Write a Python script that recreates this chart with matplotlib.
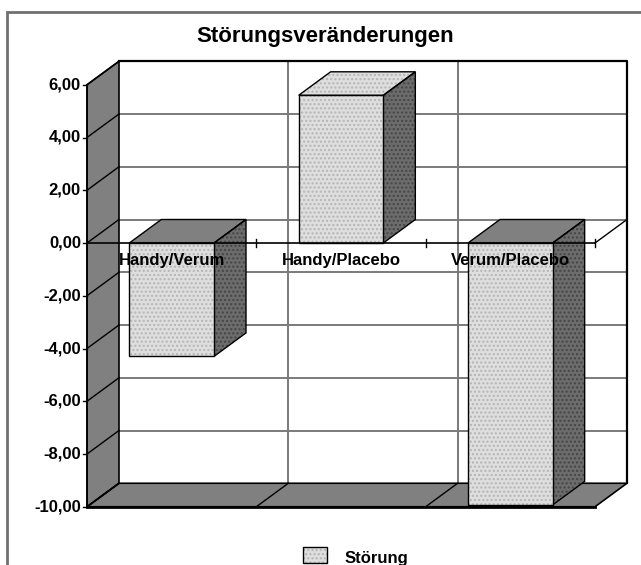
import matplotlib
matplotlib.use("Agg")
import matplotlib.pyplot as plt
import matplotlib.transforms as mtransforms
from matplotlib.patches import Polygon, Rectangle

plt.rcParams['font.family'] = ['Liberation Sans', 'DejaVu Sans']
plt.rcParams['hatch.linewidth'] = 1.0

# ---- data ----
title = "Störungsveränderungen"
categories = ["Handy/Verum", "Handy/Placebo", "Verum/Placebo"]
values = [-4.30, 5.60, -9.93]
series_name = "Störung"
y_ticks = [6, 4, 2, 0, -2, -4, -6, -8, -10]

# ---- figure / projection setup ----
W, H = 641, 565
fig = plt.figure(figsize=(W / 100, H / 100), dpi=100)
ax = fig.add_axes([0, 0, 1, 1])
ax.set_axis_off()

PX_CAT = 169.33      # pixels per category slot
PX_UNIT = 26.375     # pixels per value unit
ORIG_X, ORIG_Y = 87, 243   # front-plane origin (category 0, value 0)
ax.set_xlim(-ORIG_X / PX_CAT, (W - ORIG_X) / PX_CAT)
ax.set_ylim(-(H - ORIG_Y) / PX_UNIT, ORIG_Y / PX_UNIT)

# oblique depth offset (front plane -> back wall)
DX = 32 / PX_CAT
DY = 23.5 / PX_UNIT

n = len(categories)
vmin, vmax = min(y_ticks), max(y_ticks)

WALL = "#808080"
LIGHT = "#dedede"
LIGHT_DOT = "#b4b4b4"
DARK = "#6c6c6c"
DARK_DOT = "#454545"


def poly(pts, fc, ec="black", lw=1.0, z=1, hatch=None, hatch_col=None):
    ax.add_patch(Polygon(pts, closed=True, facecolor=fc, edgecolor="none",
                         lw=0, zorder=z))
    if hatch:
        ax.add_patch(Polygon(pts, closed=True, facecolor="none",
                             edgecolor=hatch_col, lw=0, hatch=hatch,
                             zorder=z + 0.01))
    if ec is not None:
        ax.add_patch(Polygon(pts, closed=True, facecolor="none",
                             edgecolor=ec, lw=lw, zorder=z + 0.02,
                             joinstyle="miter"))


# back wall
poly([(DX, vmin + DY), (n + DX, vmin + DY), (n + DX, vmax + DY), (DX, vmax + DY)],
     "white", ec=None, z=1)
for v in y_ticks:
    if vmin < v < vmax:
        ax.plot([DX, n + DX], [v + DY, v + DY], color="#7a7a7a", lw=1.4, zorder=1.5)
for i in range(1, n):
    ax.plot([i + DX, i + DX], [vmin + DY, vmax + DY], color="#7a7a7a", lw=1.4,
            zorder=1.5)
ax.plot([DX, n + DX, n + DX], [vmax + DY, vmax + DY, vmin + DY],
        color="black", lw=1.6, zorder=1.6)

# side wall
poly([(0, vmin), (DX, vmin + DY), (DX, vmax + DY), (0, vmax)], WALL, z=2, lw=1.2)
for v in y_ticks:
    ax.plot([0, DX], [v, v + DY], color="black", lw=1.0, zorder=2.1)

# floor
poly([(0, vmin), (n, vmin), (n + DX, vmin + DY), (DX, vmin + DY)], WALL, z=2,
     lw=1.2)
for i in range(1, n):
    ax.plot([i, i + DX], [vmin, vmin + DY], color="black", lw=1.0, zorder=2.1)
ax.plot([0, n], [vmin, vmin], color="black", lw=2.0, zorder=2.2)

# bars (full depth, half slot wide)
for i, v in enumerate(values):
    x0, x1 = i + 0.25, i + 0.75
    lo, hi = min(0, v), max(0, v)
    # right side face
    poly([(x1, lo), (x1 + DX, lo + DY), (x1 + DX, hi + DY), (x1, hi)],
         DARK, z=3, hatch="....", hatch_col=DARK_DOT)
    # top face
    if v >= 0:
        poly([(x0, hi), (x1, hi), (x1 + DX, hi + DY), (x0 + DX, hi + DY)],
             LIGHT, z=3, hatch="....", hatch_col=LIGHT_DOT)
    else:
        poly([(x0, hi), (x1, hi), (x1 + DX, hi + DY), (x0 + DX, hi + DY)],
             WALL, z=3)
    # front face
    poly([(x0, lo), (x1, lo), (x1, hi), (x0, hi)],
         LIGHT, z=3.1, hatch="....", hatch_col=LIGHT_DOT)

# value axis
ax.plot([0, 0], [vmin, vmax], color="black", lw=1.2, zorder=4)
tick_len = 4 / PX_CAT
lab_tr = mtransforms.offset_copy(ax.transData, fig=fig, x=-6, y=0, units="dots")
for v in y_ticks:
    ax.plot([-tick_len, 0], [v, v], color="black", lw=1.0, zorder=4)
    ax.text(0, v, f"{v:.2f}".replace(".", ","), transform=lab_tr,
            ha="right", va="center", fontsize=12, fontweight="bold", zorder=5)

# category axis at zero
ax.plot([0, n], [0, 0], color="black", lw=1.2, zorder=4)
ax.plot([n, n + DX], [0, DY], color="black", lw=1.0, zorder=4)
tk = 4 / PX_UNIT
for i in range(1, n + 1):
    ax.plot([i, i], [-tk, tk], color="black", lw=1.0, zorder=4)

cat_tr = mtransforms.offset_copy(ax.transData, fig=fig, x=0, y=-22, units="dots")
for i, c in enumerate(categories):
    ax.text(i + 0.5, 0, c, transform=cat_tr, ha="center", va="baseline",
            fontsize=12, fontweight="bold", zorder=6)

# title
fig.text(325 / W, 1 - 42 / H, title, ha="center", va="baseline",
         fontsize=16, fontweight="bold")

# legend key
key = (303 / W, 1 - 563 / H)
kw, kh = 24 / W, 16 / H
fig.patches.append(Rectangle(key, kw, kh, transform=fig.transFigure,
                             facecolor=LIGHT, edgecolor="none", lw=0, zorder=5))
fig.patches.append(Rectangle(key, kw, kh, transform=fig.transFigure,
                             facecolor="none", edgecolor=LIGHT_DOT, lw=0,
                             hatch="....", zorder=5.1))
fig.patches.append(Rectangle(key, kw, kh, transform=fig.transFigure,
                             facecolor="none", edgecolor="black", lw=1.0,
                             zorder=5.2))
fig.text(345 / W, 1 - 563 / H, series_name, ha="left", va="baseline",
         fontsize=12, fontweight="bold")

# chart frame
fig.patches.append(Rectangle((7 / W, -0.1), 1.0, (1 - 12 / H) + 0.1,
                             transform=fig.transFigure, facecolor="none",
                             edgecolor="#707070", lw=2.0, zorder=10))

fig.savefig("out.png", dpi=100)
